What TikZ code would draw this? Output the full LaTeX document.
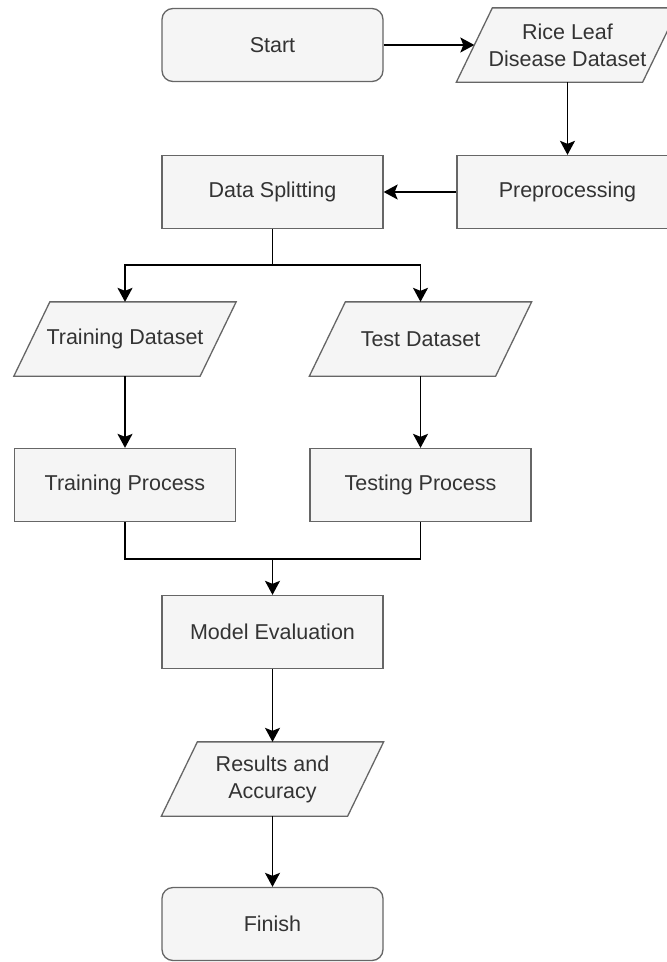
\documentclass[tikz,border=0pt]{standalone}
\usepackage{fontspec}
\setmainfont{Liberation Sans}
\usetikzlibrary{arrows.meta}
\pgfdeclarelayer{bg}
\pgfsetlayers{bg,main}
\definecolor{boxfill}{HTML}{F5F5F5}
\definecolor{boxline}{HTML}{666666}
\definecolor{boxtext}{HTML}{333333}
\newcommand\drawpara[1]{%
  \begin{pgfonlayer}{bg}
  \path[para] ([xshift=36pt]#1.north west) -- (#1.north east) -- ([xshift=-36pt]#1.south east) -- (#1.south west) -- cycle;
  \end{pgfonlayer}}
\begin{document}
\begin{tikzpicture}[x=1pt,y=-1pt,
  box/.style={draw=boxline, fill=boxfill, line width=1.3pt, minimum width=221pt, minimum height=73pt,
    text=boxtext, font=\fontsize{21.5}{27}\selectfont, align=center, inner sep=0pt},
  rbox/.style={box, rounded corners=11pt},
  io/.style={box, draw=none, fill=none},
  para/.style={draw=boxline, fill=boxfill, line width=1.3pt, line join=miter},
  ln/.style={draw=black, line width=1.7pt},
  arr/.style={ln, -{Stealth[length=14pt,width=15pt,inset=3pt]}}]
\useasboundingbox (0,0) rectangle (667,962);
\clip (0,0) rectangle (667,962);

\node[rbox] (start) at (272.5,45) {Start};
\node[io]   (rice)  at (567.5,45) {Rice Leaf\\Disease Dataset};
\node[box]  (pre)   at (567.5,192) {Preprocessing};
\node[box]  (split) at (272.5,192) {Data Splitting};
\node[io]   (trd)   at (125,339) {Training Dataset};
\node[io]   (ted)   at (420.5,339) {Test Dataset};
\node[box]  (trp)   at (125,485) {Training Process};
\node[box]  (tsp)   at (420.5,485) {Testing Process};
\node[box]  (eval)  at (272.5,632) {Model Evaluation};
\node[io]   (res)   at (272.5,779) {Results and\\Accuracy};
\node[rbox] (fin)   at (272.5,924) {Finish};

\drawpara{rice}
\drawpara{trd}
\drawpara{ted}
\drawpara{res}

\coordinate (sj) at (272.5,265);
\coordinate (mj) at (272.5,559);

\draw[arr] (start.east) -- ([xshift=18pt]rice.west);
\draw[arr] (rice.south) -- (pre.north);
\draw[arr] (pre.west) -- (split.east);
\draw[ln] (split.south) -- (sj);
\draw[arr] (sj) -| (trd.north);
\draw[arr] (sj) -| (ted.north);
\draw[arr] (trd.south) -- (trp.north);
\draw[arr] (ted.south) -- (tsp.north);
\draw[ln] (trp.south) |- (mj);
\draw[ln] (tsp.south) |- (mj);
\draw[arr] (mj) -- (eval.north);
\draw[arr] (eval.south) -- (res.north);
\draw[arr] (res.south) -- (fin.north);
\end{tikzpicture}
\end{document}
